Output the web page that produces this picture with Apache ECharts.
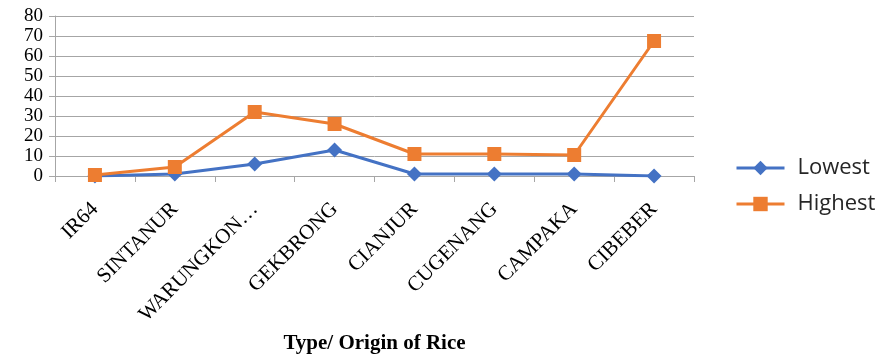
<!DOCTYPE html>
<html>
<head>
<meta charset="utf-8">
<script src="https://cdn.jsdelivr.net/npm/echarts@6/dist/echarts.min.js"></script>
<style>
  html, body { margin: 0; padding: 0; background: #ffffff; }
  #chart { width: 885px; height: 358px; }
</style>
</head>
<body>
<div id="chart"></div>
<script>
// Rice type / origin categories
const categories = ['IR64', 'SINTANUR', 'WARUNGKON…', 'GEKBRONG', 'CIANJUR', 'CUGENANG', 'CAMPAKA', 'CIBEBER'];
// Lowest and highest measured values per category
const lowestValues = [0, 1, 6, 13, 1, 1, 1, 0];
const highestValues = [0.5, 4.5, 32, 26, 11, 11, 10.5, 67.5];
// Value axis ticks
const yMin = 0;
const yMax = 80;
const yStep = 10;

const serif = '"Liberation Serif", "Times New Roman", serif';
const sans = '"Open Sans", "Liberation Sans", sans-serif';
const gridColor = '#a6a6a6';

const chart = echarts.init(document.getElementById('chart'), null, { renderer: 'canvas' });

chart.setOption({
  animation: false,
  backgroundColor: '#ffffff',
  grid: { left: 55, right: 191, top: 16, bottom: 182, containLabel: false, outerBoundsMode: 'none' },
  legend: {
    orient: 'vertical',
    left: 730,
    top: 152,
    itemWidth: 48,
    itemHeight: 18,
    itemGap: 14,
    lineStyle: { width: 3 },
    textStyle: { fontFamily: sans, fontSize: 22, color: '#262626', padding: [0, 0, 0, 8] },
    data: ['Lowest', 'Highest']
  },
  xAxis: {
    type: 'category',
    data: categories,
    boundaryGap: true,
    name: 'Type/ Origin of Rice',
    nameLocation: 'middle',
    nameGap: 157,
    nameTextStyle: { fontFamily: serif, fontSize: 21, fontWeight: 'bold', color: '#000000' },
    axisLine: { show: true, lineStyle: { color: gridColor, width: 1 } },
    axisTick: { show: true, alignWithLabel: false, length: 6, lineStyle: { color: gridColor } },
    axisLabel: {
      interval: 0,
      rotate: 45,
      margin: 30,
      fontFamily: serif,
      fontSize: 21,
      color: '#000000'
    },
    splitLine: { show: false }
  },
  yAxis: {
    type: 'value',
    min: yMin,
    max: yMax,
    interval: yStep,
    axisLine: { show: true, lineStyle: { color: gridColor, width: 1 } },
    axisTick: { show: true, length: 6, lineStyle: { color: gridColor } },
    axisLabel: {
      margin: 12,
      hideOverlap: false,
      fontFamily: serif,
      fontSize: 19,
      color: '#000000'
    },
    splitLine: { show: true, lineStyle: { color: gridColor, width: 1 } }
  },
  series: [
    {
      name: 'Lowest',
      type: 'line',
      data: lowestValues,
      symbol: 'diamond',
      symbolSize: 15,
      itemStyle: { color: '#4472c4' },
      lineStyle: { color: '#4472c4', width: 3 },
      z: 2
    },
    {
      name: 'Highest',
      type: 'line',
      data: highestValues,
      symbol: 'rect',
      symbolSize: 14,
      itemStyle: { color: '#ed7d31' },
      lineStyle: { color: '#ed7d31', width: 3 },
      z: 3
    }
  ]
});
</script>
</body>
</html>
